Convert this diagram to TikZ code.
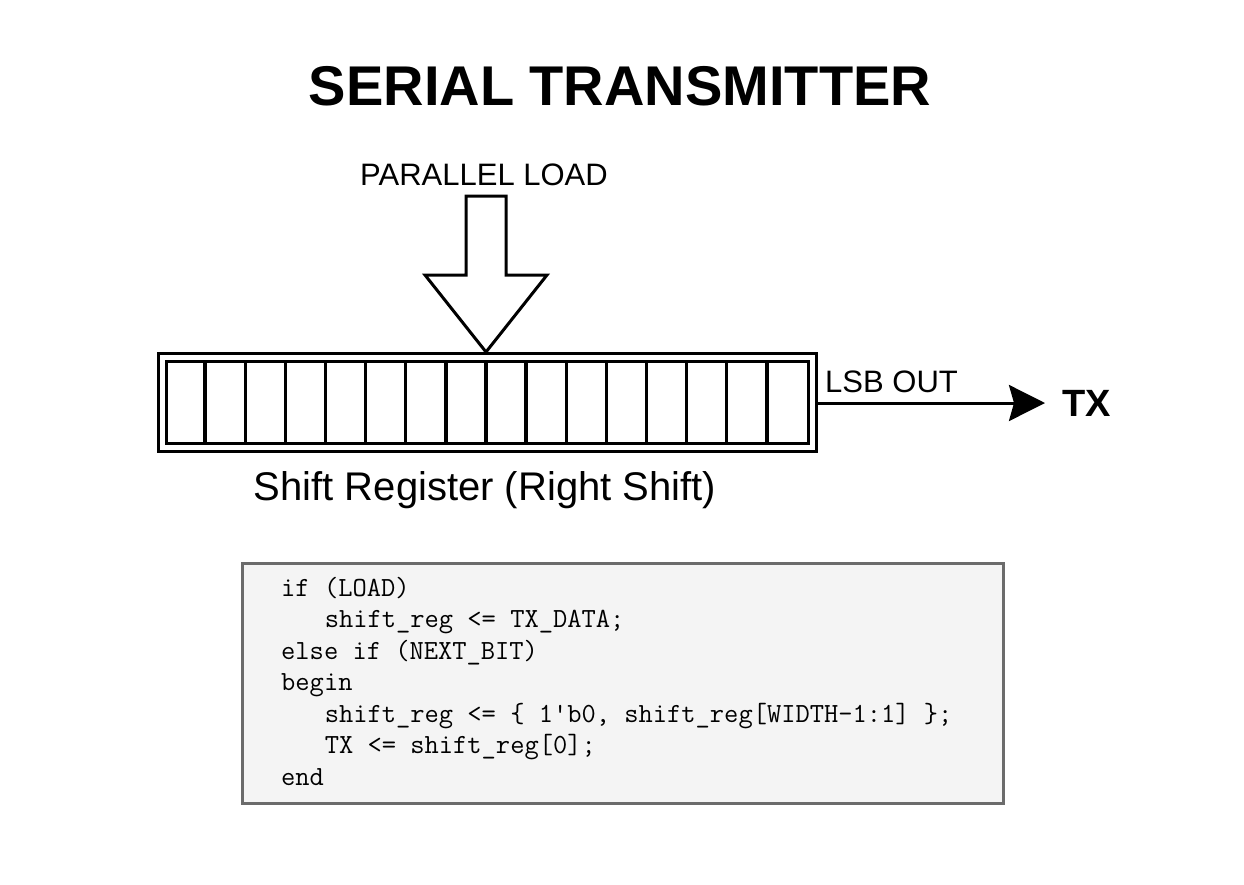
\documentclass[tikz,border=0pt]{standalone}
\usepackage{fontspec}
\setmainfont{Liberation Sans}
\usetikzlibrary{arrows.meta}
\definecolor{codebg}{HTML}{F4F4F4}
\definecolor{codeborder}{HTML}{6B6B6B}
\tikzset{
  regline/.style={line width=3.3pt, draw=black},
  codeline/.style={anchor=base west, inner sep=0pt, font=\ttfamily\fontsize{27.7}{30}\selectfont},
  label/.style={inner sep=0pt},
}
\begin{document}
\begin{tikzpicture}[x=1pt,y=-1pt]
\useasboundingbox (0,0) rectangle (1244,884);
\fill[white] (0,0) rectangle (1244,884);
% title
\node[label, anchor=base, font=\bfseries\fontsize{56}{60}\selectfont] (title) at (620,105) {SERIAL TRANSMITTER};
% parallel load
\node[label, anchor=base, font=\fontsize{31}{36}\selectfont] (pl) at (484,185) {PARALLEL LOAD};
\draw[line width=3pt, line join=miter, fill=white]
  (466,196) -- (506,196) -- (506,275) -- (547,275) -- (486,352) -- (425,275) -- (466,275) -- cycle;
% register
\node[regline, minimum width=658pt, minimum height=98pt, inner sep=0pt, anchor=north west] (reg) at (157,352) {};
\node[regline, minimum width=642pt, minimum height=82pt, inner sep=0pt, anchor=north west] (regin) at (165,360) {};
\foreach \i in {1,...,15} {
  \draw[regline] ({165+\i*40.125},360) -- ({165+\i*40.125},442);
}
\node[label, anchor=base, font=\fontsize{40}{44}\selectfont] (reglabel) at (485,500) {Shift Register (Right Shift)};
% output
\node[label, anchor=base west, font=\fontsize{31}{36}\selectfont] (lsb) at (825,392) {LSB OUT};
\node[label, anchor=base west, font=\bfseries\fontsize{38}{42}\selectfont] (tx) at (1062,416) {TX};
\coordinate (tip) at (1045,403);
\draw[line width=3pt, -{Stealth[length=36pt, width=36pt, inset=5pt]}] (reg.east |- tip) -- (tip);
% code box
\node[draw=codeborder, fill=codebg, line width=3pt, minimum width=761pt, minimum height=240pt, inner sep=0pt, anchor=north west] (code) at (241,562) {};
\node[codeline] (c1) at (281,596) {if (LOAD)};
\node[codeline] (c2) at (281+43.6,627.5) {shift\_reg <= TX\_DATA;};
\node[codeline] (c3) at (281,659) {else if (NEXT\_BIT)};
\node[codeline] (c4) at (281,690.5) {begin};
\node[codeline] (c5) at (281+43.6,722) {shift\_reg <= \{ 1\textquotesingle b0, shift\_reg[WIDTH-1:1] \};};
\node[codeline] (c6) at (281+43.6,753.5) {TX <= shift\_reg[0];};
\node[codeline] (c7) at (281,785) {end};
\end{tikzpicture}
\end{document}
